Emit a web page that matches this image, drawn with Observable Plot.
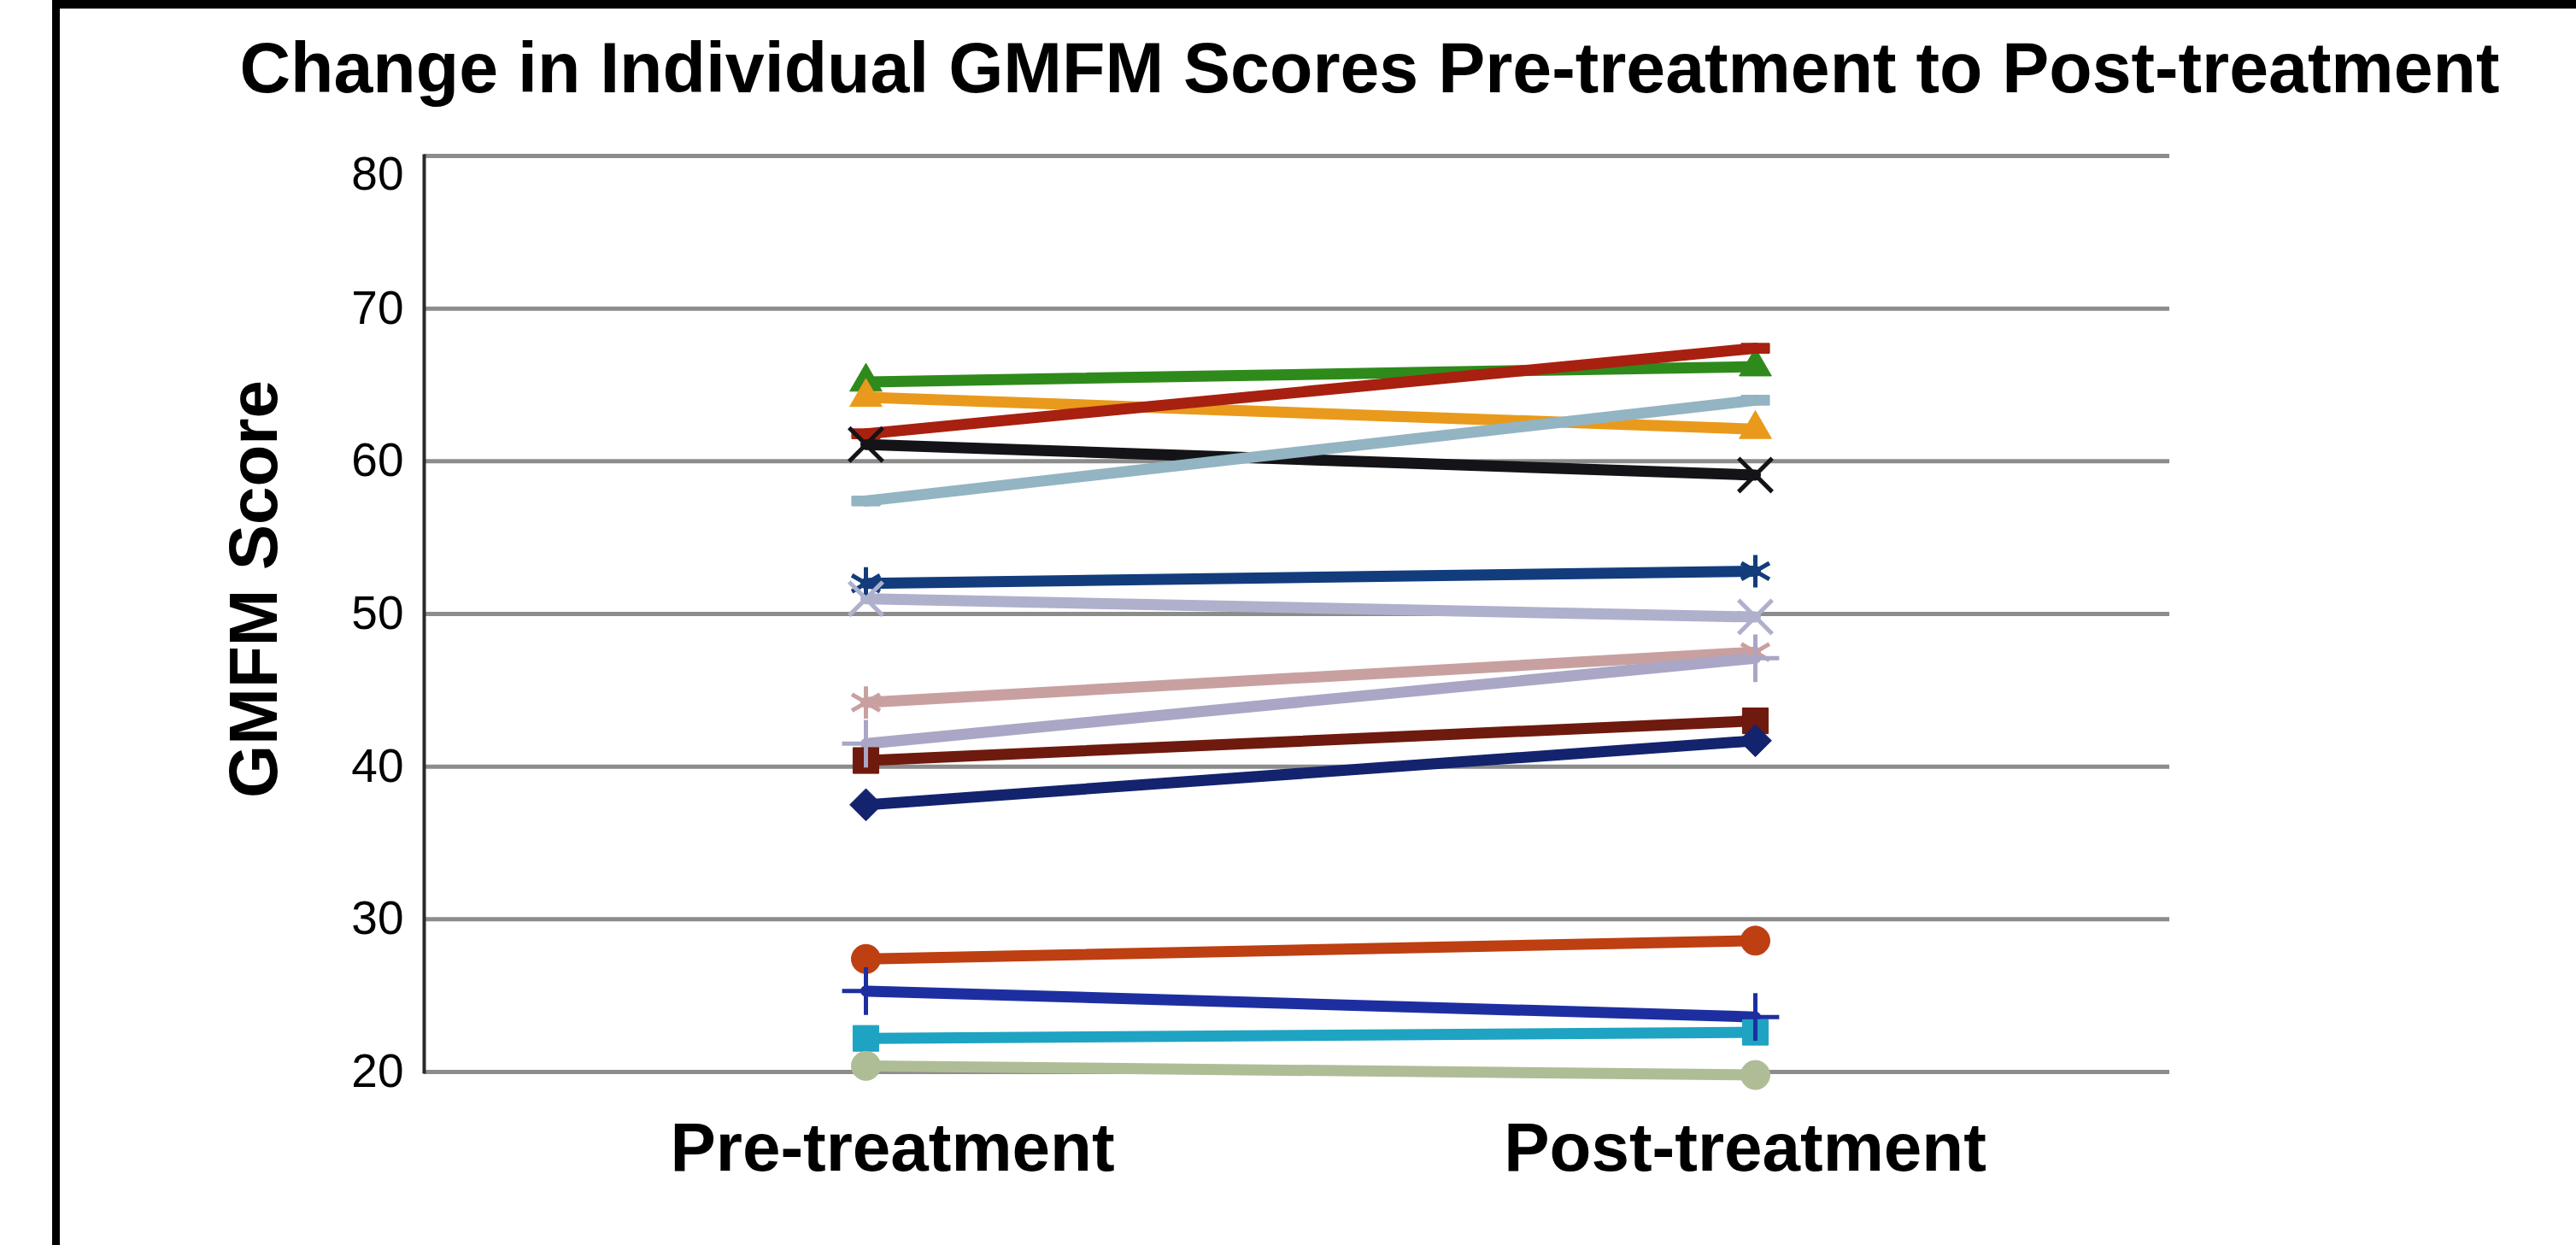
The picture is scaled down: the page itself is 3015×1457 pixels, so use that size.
<!DOCTYPE html>
<html>
<head>
<meta charset="utf-8">
<script src="https://cdn.jsdelivr.net/npm/d3@7"></script>
<script src="https://cdn.jsdelivr.net/npm/@observablehq/plot@0.6"></script>
<style>
html, body { margin: 0; padding: 0; background: #fff; overflow: hidden; }
#page { position: relative; width: 3015px; height: 1457px; font-family: "Liberation Sans", Arial, Helvetica, sans-serif; overflow: hidden; }
#border { position: absolute; left: 61px; top: 0; width: 4000px; height: 2000px; border-left: 9px solid #000; border-top: 10px solid #000; box-sizing: border-box; }
#title { position: absolute; left: 0; top: 38px; width: 3015px; padding-left: 191px; box-sizing: border-box; text-align: center; font-size: 82.5px; line-height: 82px; font-weight: bold; color: #000; white-space: nowrap; }
#chart { position: absolute; left: 0; top: 150px; }
</style>
</head>
<body>
<div id="page">
  <div id="border"></div>
  <div id="title">Change in Individual GMFM Scores Pre-treatment to Post-treatment</div>
  <div id="chart"></div>
</div>
<script>
// ---- data ----
const phases = ["Pre-treatment", "Post-treatment"];
const subjects = ["S1", "S2", "S3", "S4", "S5", "S6", "S7", "S8", "S9", "S10", "S11", "S12", "S13", "S14", "S15"];
const preScores  = [65.2, 64.2, 61.8, 61.1, 57.4, 52.0, 51.0, 44.2, 41.5, 40.4, 37.5, 27.4, 25.3, 22.2, 20.4];
const postScores = [66.2, 62.1, 67.4, 59.1, 64.0, 52.8, 49.8, 47.5, 47.1, 43.0, 41.7, 28.6, 23.6, 22.6, 19.8];
const yTicks = [20, 30, 40, 50, 60, 70, 80];
const yTitle = "GMFM Score";

// ---- styles ----
const colors = ["#2f8a1c", "#e99a1c", "#a8200f", "#141418", "#93b4c2", "#123c7c", "#aeb0cc", "#c9a0a0",
                "#aaa6c6", "#6e1a0e", "#13236e", "#bd3f12", "#1d2fa0", "#1fa3c2", "#aebd96"];
const dash = { draw(context, size) { const w = Math.sqrt(size) * 0.55, h = w * 0.35; context.rect(-w, -h, 2 * w, 2 * h); } };
const symbolNames = ["triangle", "triangle", "dash", "times", "dash", "asterisk", "times", "asterisk",
                     "plus", "square", "diamond2", "circle", "plus", "square", "circle"];
const symbols = symbolNames.map(s => s === "dash" ? dash : s);
const drawOrder = [0, 1, 3, 5, 6, 7, 8, 9, 10, 11, 12, 13, 14, 2, 4];

const rows = drawOrder.flatMap(i => phases.map((p, j) => ({
  subject: subjects[i], phase: p, score: j === 0 ? preScores[i] : postScores[i], kind: symbolNames[i]
})));
const strokedKinds = new Set(["times", "asterisk", "plus"]);
const catLabel = { tickSize: 0, tickPadding: 59, fontSize: 80, fontWeight: "bold", label: null };
const yLabel = { tickSize: 0, tickPadding: 24, fontSize: 55, label: null };

const chart = Plot.plot({
  width: 3015,
  height: 1307,
  marginTop: 32,
  marginBottom: 203,
  marginLeft: 496,
  marginRight: 476,
  style: { fontFamily: "Liberation Sans, Arial, Helvetica, sans-serif", background: "transparent", color: "#000", overflow: "visible" },
  x: { type: "point", domain: phases, padding: 0.481, align: 0.516, label: null },
  y: { domain: [20, 80], label: null },
  color: { domain: subjects, range: colors },
  symbol: { domain: subjects, range: symbols },
  marks: [
    Plot.ruleY(yTicks, { stroke: "#8c8c8c", strokeWidth: 5 }),
    Plot.frame({ anchor: "left", stroke: "#2a2a2a", strokeWidth: 4 }),
    Plot.axisY(yTicks.slice(0, -1), yLabel),
    Plot.axisY(yTicks.slice(-1), { ...yLabel, dy: 22 }),
    Plot.axisX([phases[0]], { ...catLabel, dx: 31 }),
    Plot.axisX([phases[1]], { ...catLabel, dx: -12 }),
    Plot.text([yTitle], { frameAnchor: "left", rotate: -90, dx: -198, dy: -29, fontSize: 80, fontWeight: "bold", textAnchor: "middle", fill: "#000" }),
    Plot.line(rows, { x: "phase", y: "score", z: "subject", stroke: "subject", strokeWidth: 13, strokeLinecap: "round", strokeLinejoin: "round" }),
    Plot.dot(rows, { filter: d => d.kind === "triangle", x: "phase", y: "score", symbol: "subject", fill: "subject", stroke: "subject", strokeWidth: 1, r: 14 }),
    Plot.dot(rows, { filter: d => !strokedKinds.has(d.kind) && d.kind !== "triangle", x: "phase", y: "score", symbol: "subject", fill: "subject", stroke: "subject", strokeWidth: 1, r: 17 }),
    Plot.dot(rows, { filter: d => strokedKinds.has(d.kind), x: "phase", y: "score", symbol: "subject", fill: "none", stroke: "subject", strokeWidth: 5, r: 18 })
  ]
});
document.getElementById("chart").appendChild(chart);
</script>
</body>
</html>
